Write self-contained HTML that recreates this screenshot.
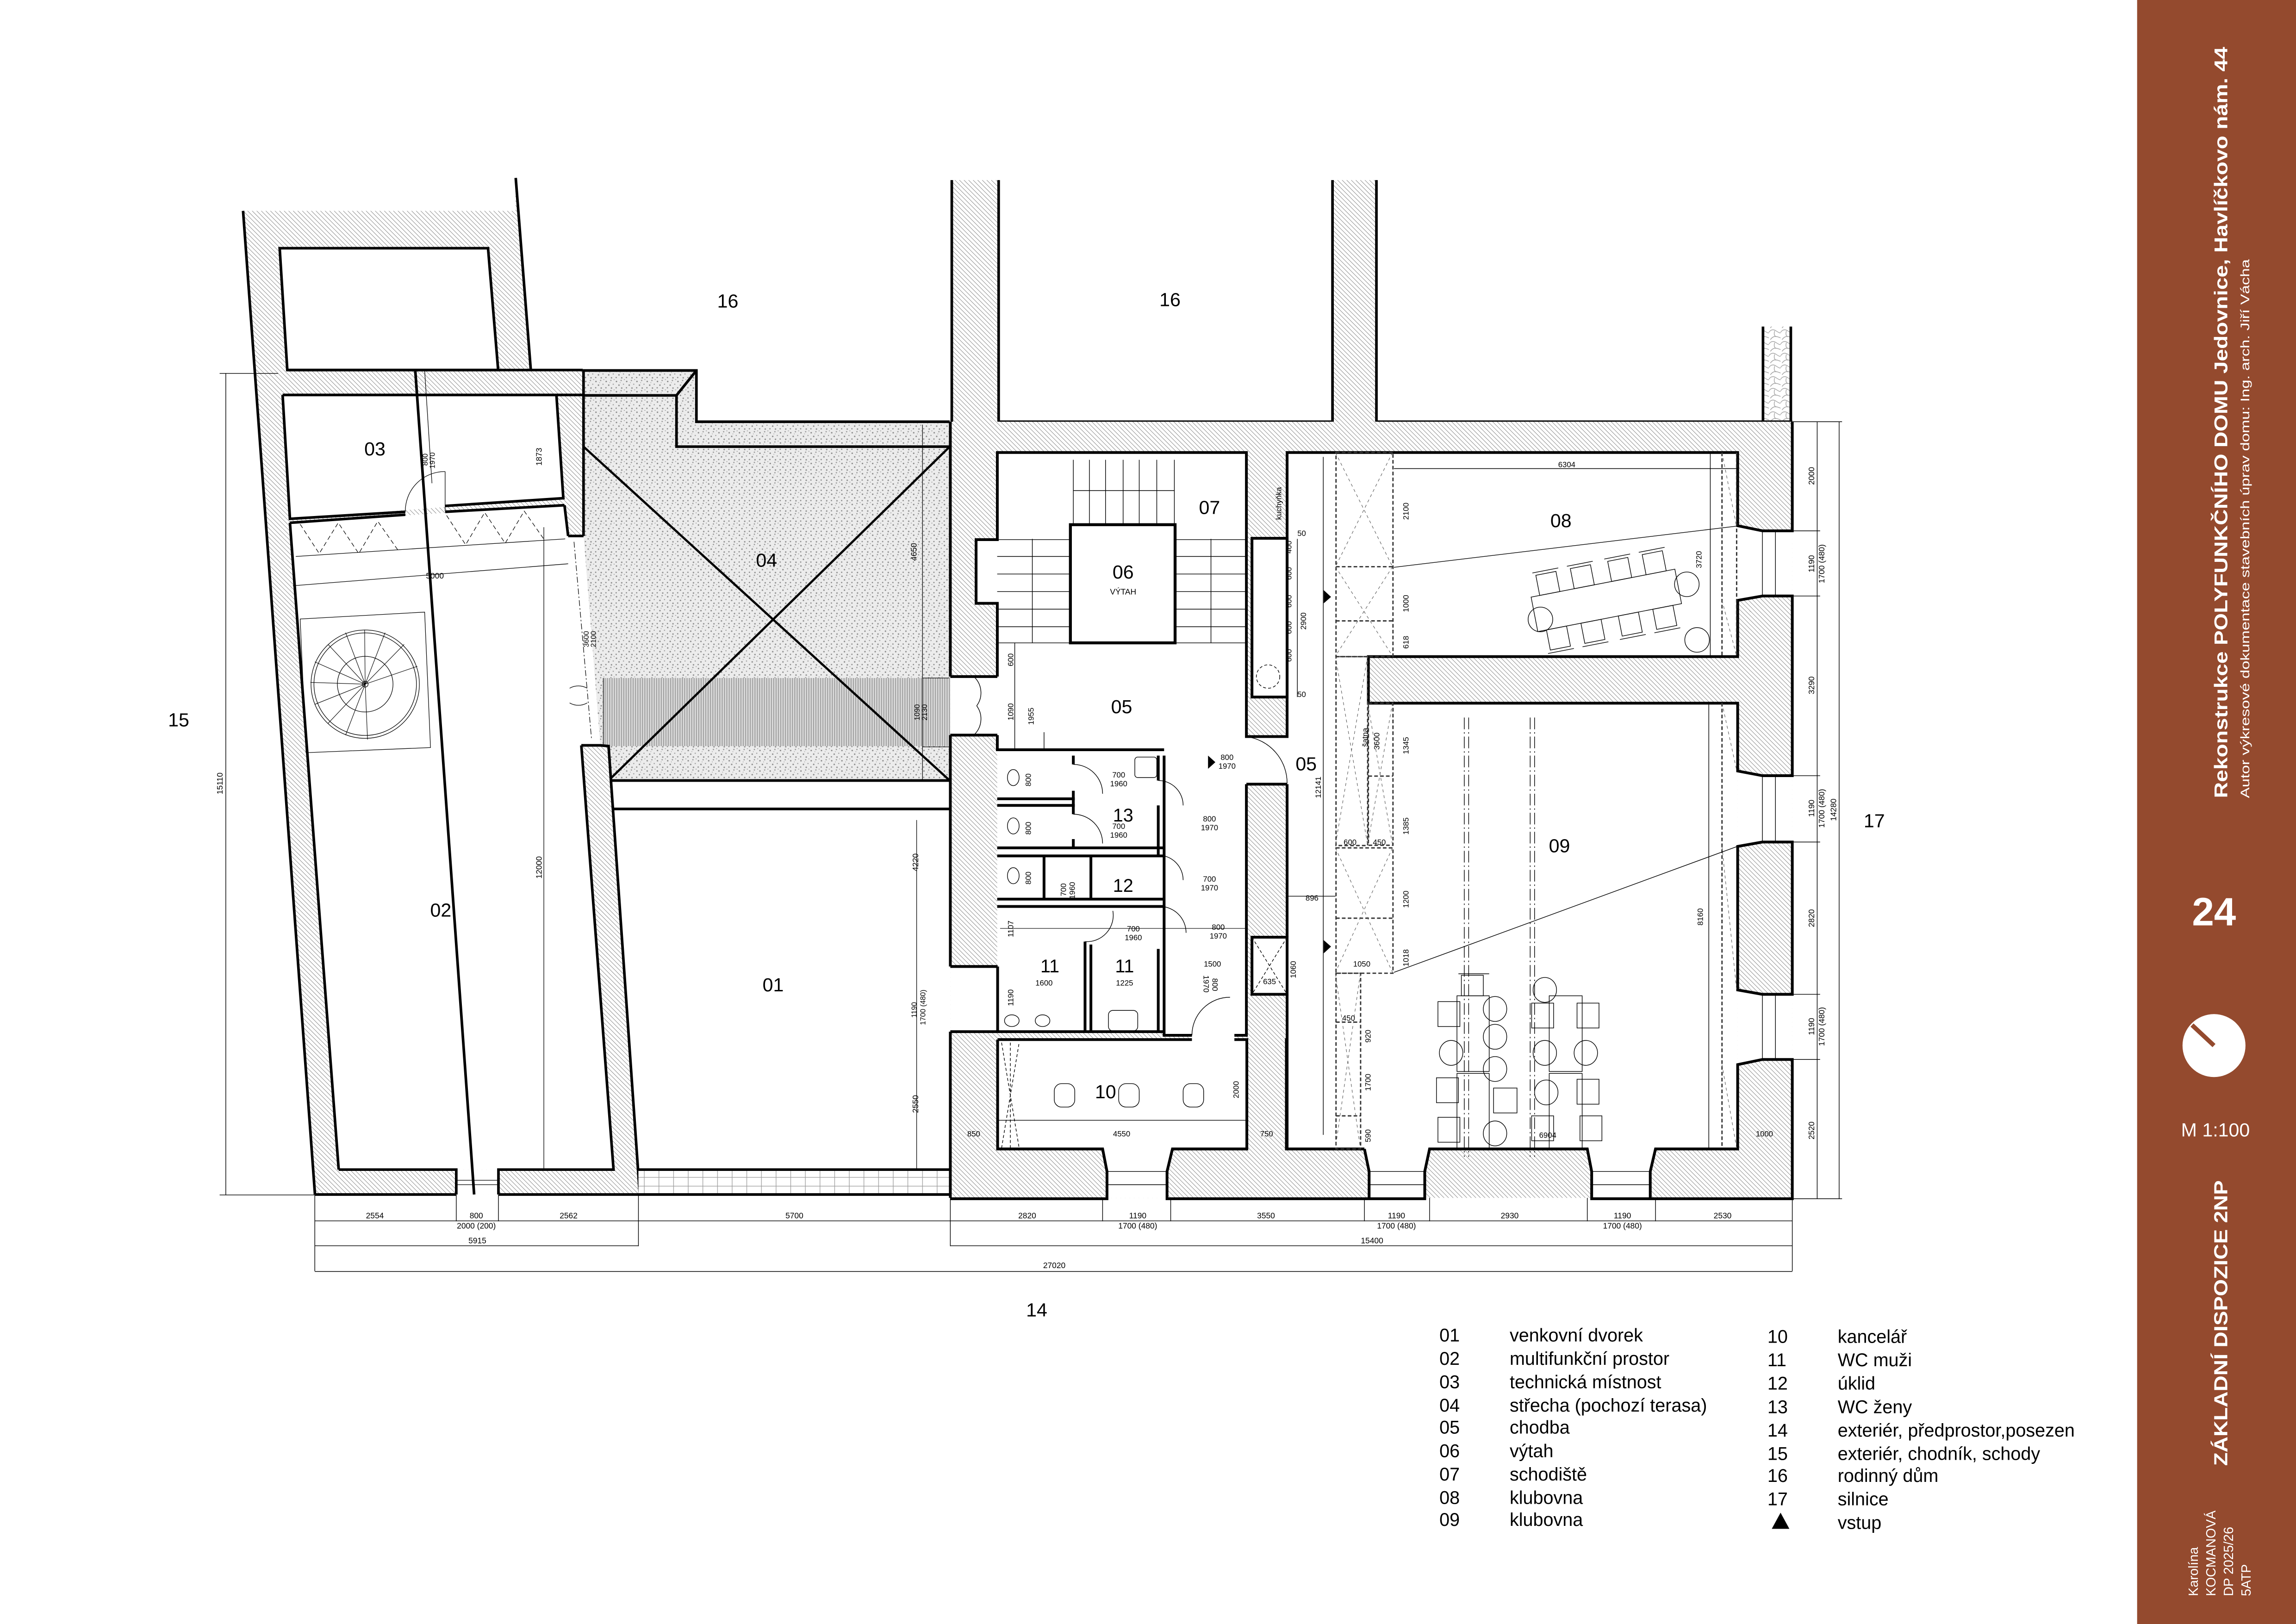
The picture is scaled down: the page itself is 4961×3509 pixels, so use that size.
<!DOCTYPE html>
<html><head><meta charset="utf-8"><style>
html,body{margin:0;padding:0;background:#fff}
svg{display:block}
text{font-family:"Liberation Sans Narrow","Liberation Sans",sans-serif;fill:#000}
</style></head><body>
<svg width="4961" height="3509" viewBox="0 0 1568 1109" preserveAspectRatio="none" xmlns="http://www.w3.org/2000/svg">
<defs>
<pattern id="h" width="2.2" height="2.2" patternUnits="userSpaceOnUse" patternTransform="rotate(-45)">
<rect width="2.2" height="2.2" fill="#fff"/><line x1="0" y1="0" x2="0" y2="2.2" stroke="#7a7a7a" stroke-width="0.55"/></pattern>
<pattern id="st" width="7" height="7" patternUnits="userSpaceOnUse">
<rect width="7" height="7" fill="#ececec"/>
<circle cx="1" cy="1.5" r="0.5" fill="#888"/><circle cx="4.2" cy="0.8" r="0.45" fill="#999"/><circle cx="2.7" cy="4" r="0.5" fill="#8a8a8a"/><circle cx="5.8" cy="3.4" r="0.4" fill="#999"/><circle cx="0.8" cy="5.8" r="0.45" fill="#888"/><circle cx="4.6" cy="6" r="0.5" fill="#8d8d8d"/><circle cx="6.4" cy="0.2" r="0.35" fill="#999"/><circle cx="3.5" cy="2.3" r="0.3" fill="#aaa"/></pattern>
<pattern id="wk" width="1.6" height="7" patternUnits="userSpaceOnUse">
<rect width="1.6" height="7" fill="#d8d8d8"/><line x1="0.4" y1="0" x2="0.4" y2="7" stroke="#8a8a8a" stroke-width="0.45"/></pattern>
<pattern id="pv" width="10" height="6" patternUnits="userSpaceOnUse">
<rect width="10" height="6" fill="#fff"/><rect width="10" height="6" fill="none" stroke="#999" stroke-width="0.4"/></pattern>
<pattern id="stone" width="8" height="8" patternUnits="userSpaceOnUse">
<rect width="8" height="8" fill="#fff"/><path d="M0 3 Q2 0 5 2 T8 3 M1 8 Q3 5 6 6 T8 7 M4 2 Q3 5 5 6" fill="none" stroke="#999" stroke-width="0.4"/></pattern>
</defs>

<!-- ===== sidebar ===== -->
<rect x="1459.5" y="0" width="108.5" height="1109" fill="#944a2e"/>
<text transform="translate(1521,545) rotate(-90)" font-size="12.5" font-weight="bold" style="fill:#fff" textLength="513" lengthAdjust="spacingAndGlyphs">Rekonstrukce POLYFUNKČNÍHO DOMU Jedovnice, Havlíčkovo nám. 44</text>
<text transform="translate(1536,545) rotate(-90)" font-size="8.5" style="fill:#fff" textLength="368" lengthAdjust="spacingAndGlyphs">Autor výkresové dokumentace stavebních úprav domu: Ing. arch. Jiří Vácha</text>
<text x="1512" y="632" font-size="27" font-weight="bold" text-anchor="middle" style="fill:#fff;font-family:'Liberation Sans',sans-serif">24</text>
<circle cx="1512" cy="714" r="21.5" fill="#fff"/>
<line x1="1512" y1="714" x2="1497" y2="700" stroke="#944a2e" stroke-width="3"/>
<text x="1513" y="776" font-size="13" text-anchor="middle" style="fill:#fff;font-family:'Liberation Sans',sans-serif">M 1:100</text>
<text transform="translate(1521,1001) rotate(-90)" font-size="13" font-weight="bold" style="fill:#fff" textLength="195" lengthAdjust="spacingAndGlyphs">ZÁKLADNÍ DISPOZICE 2NP</text>
<text transform="translate(1501,1090) rotate(-90)" font-size="9" style="fill:#fff">Karolína</text>
<text transform="translate(1513,1090) rotate(-90)" font-size="9" style="fill:#fff">KOCMANOVÁ</text>
<text transform="translate(1525,1090) rotate(-90)" font-size="9" style="fill:#fff">DP 2025/26</text>
<text transform="translate(1537,1090) rotate(-90)" font-size="9" style="fill:#fff">5ATP</text>

<!-- ===== legend ===== -->
<g font-size="12.5">
<text x="983" y="916">01</text><text x="1031" y="916">venkovní dvorek</text>
<text x="983" y="932">02</text><text x="1031" y="932">multifunkční prostor</text>
<text x="983" y="948">03</text><text x="1031" y="948">technická místnost</text>
<text x="983" y="964">04</text><text x="1031" y="964">střecha (pochozí terasa)</text>
<text x="983" y="979">05</text><text x="1031" y="979">chodba</text>
<text x="983" y="995">06</text><text x="1031" y="995">výtah</text>
<text x="983" y="1011">07</text><text x="1031" y="1011">schodiště</text>
<text x="983" y="1027">08</text><text x="1031" y="1027">klubovna</text>
<text x="983" y="1042">09</text><text x="1031" y="1042">klubovna</text>
<text x="1207" y="917">10</text><text x="1255" y="917">kancelář</text>
<text x="1207" y="933">11</text><text x="1255" y="933">WC muži</text>
<text x="1207" y="949">12</text><text x="1255" y="949">úklid</text>
<text x="1207" y="965">13</text><text x="1255" y="965">WC ženy</text>
<text x="1207" y="981">14</text><text x="1255" y="981">exteriér, předprostor,posezen</text>
<text x="1207" y="997">15</text><text x="1255" y="997">exteriér, chodník, schody</text>
<text x="1207" y="1012">16</text><text x="1255" y="1012">rodinný dům</text>
<text x="1207" y="1028">17</text><text x="1255" y="1028">silnice</text>
<polygon points="1210,1044 1216,1033 1222,1044" fill="#000"/><text x="1255" y="1044">vstup</text>
</g>

<!-- ===== roof 04 ===== -->
<polygon points="398.5,270 462,270 462,305 648.6,305 648.6,533 415.6,533 410,510 398.5,366" fill="url(#st)"/>
<rect x="412" y="463" width="237" height="46.5" fill="url(#wk)"/>
<polygon points="398,253 475.6,253 475.6,288 648.6,288 648.6,305 462,305 462,270 398,270" fill="url(#st)"/>
<g stroke="#000" stroke-width="1.8" fill="none">
<polyline points="398,253 475.6,253 475.6,288 648.6,288"/>
<polyline points="398.5,270 462,270 462,305 648.6,305"/>
<line x1="462" y1="270" x2="475.6" y2="253"/>
<line x1="415.6" y1="533" x2="648.6" y2="533"/>
<line x1="415.8" y1="552.4" x2="648.6" y2="552.4"/>
</g>
<g stroke="#000" stroke-width="1.5"><line x1="398.5" y1="305" x2="648.6" y2="533"/><line x1="648.6" y1="305" x2="415.6" y2="533"/></g>
<g stroke="#000" stroke-width="0.4" fill="none"><line x1="630" y1="290" x2="630" y2="533"/><line x1="412" y1="463" x2="412" y2="510"/><line x1="630" y1="463" x2="648" y2="463"/><line x1="630" y1="510" x2="648" y2="510"/></g>
<text x="523.5" y="387" font-size="13" text-anchor="middle">04</text>
<text transform="translate(626,383) rotate(-90)" font-size="5.5">4650</text>
<text transform="translate(628,492) rotate(-90)" font-size="5">1090</text><text transform="translate(633,492) rotate(-90)" font-size="5">2130</text>

<!-- ===== left building ===== -->
<polygon points="166,144 352,144 352,122 362.5,253 398,253 398.5,366 410,510 415.6,509.5 436.9,815.7 215.1,815.7" fill="url(#h)"/>
<polygon points="191,169.5 333.3,169.5 340.2,252.7 196.2,252.7" fill="#fff"/>
<polygon points="193,269.7 380,269.7 384.7,340.2 198,354.3" fill="#fff"/>
<polygon points="198,357 385.5,345 388,366 398.5,366 410,510 397,502.6 419,798.7 231.3,798.7" fill="#fff"/>
<polygon points="388,366 398.5,366 410,510 397,510" fill="#fff"/>
<rect x="311.6" y="798.7" width="28.8" height="17" fill="#fff"/>
<g stroke="#000" stroke-width="1.8" fill="none" stroke-linejoin="miter">
<line x1="166" y1="144" x2="215.1" y2="815.7"/>
<line x1="352.2" y1="121.5" x2="362.5" y2="252.7"/>
<polygon points="191,169.5 333.3,169.5 340.2,252.7 196.2,252.7"/>
<line x1="196.2" y1="252.7" x2="398" y2="252.7"/>
<polyline points="193,269.7 380,269.7 384.7,340.2 304,345.5"/>
<polyline points="276.8,349.5 198,354.3 193,269.7"/>
<polyline points="198,357 276.8,351.5"/><polyline points="304,349.5 385.5,345"/>
<line x1="380" y1="269.7" x2="398.5" y2="269.7"/>
<line x1="398.5" y1="253" x2="398.5" y2="366"/>
<line x1="385.5" y1="345" x2="388" y2="366"/>
<line x1="388" y1="366" x2="398.5" y2="366"/>
<line x1="198" y1="357" x2="231.3" y2="798.7"/>
<polyline points="397,509 419,798.7 340.4,798.7 340.4,815.7"/>
<polyline points="231.3,798.7 311.6,798.7 311.6,815.7"/>
<polyline points="397,509 410,509 415.6,509.5 436.9,815.7"/>
<line x1="215.1" y1="815.7" x2="311.6" y2="815.7"/>
<line x1="340.4" y1="815.7" x2="436.9" y2="815.7"/>
<line x1="283.6" y1="253" x2="323.8" y2="815.7"/>
</g>
<g stroke="#000" stroke-width="0.4" fill="none">
<line x1="290" y1="253" x2="295" y2="330"/>
<polyline points="202,380 386,368"/><line x1="200" y1="400" x2="388" y2="385"/>
<path d="M205 358 L218 378 L231 357 L245 378 L258 356 L272 376 M305 352 L318 372 L331 350 L345 371 L358 349 L372 369" stroke-dasharray="3,2"/>
<path d="M276.8 349.5 A27 27 0 0 1 304 322" />
<line x1="304" y1="322" x2="304" y2="349"/>
<line x1="311.6" y1="806" x2="340.4" y2="806"/><line x1="311.6" y1="809" x2="340.4" y2="809"/>
<polygon points="205,422.7 290,418 294,510.5 209,514"/>
<circle cx="249.4" cy="467.2" r="37"/><circle cx="249.4" cy="467.2" r="35"/><circle cx="249.4" cy="467.2" r="19"/>
<circle cx="249.4" cy="467.2" r="2" fill="#fff"/>
<g stroke-width="0.35">
<line x1="249.4" y1="467.2" x2="249" y2="430"/><line x1="249.4" y1="467.2" x2="236" y2="432"/><line x1="249.4" y1="467.2" x2="224" y2="440"/><line x1="249.4" y1="467.2" x2="215" y2="452"/><line x1="249.4" y1="467.2" x2="212" y2="466"/><line x1="249.4" y1="467.2" x2="215" y2="481"/><line x1="249.4" y1="467.2" x2="224" y2="494"/><line x1="249.4" y1="467.2" x2="236" y2="502"/><line x1="249.4" y1="467.2" x2="263" y2="432"/><line x1="249.4" y1="467.2" x2="276" y2="440"/><line x1="249.4" y1="467.2" x2="285" y2="455"/><line x1="249.4" y1="467.2" x2="251" y2="505"/>
</g>
<line x1="392" y1="370" x2="404" y2="505" stroke-dasharray="4,1.5,1,1.5"/>
<path d="M389 470 A12 12 0 0 1 401 470 M389 480 A12 12 0 0 0 401 480"/>
<line x1="371.4" y1="360" x2="371.4" y2="799"/>
</g>
<text x="256" y="311" font-size="13" text-anchor="middle">03</text>
<text x="301" y="626" font-size="13" text-anchor="middle">02</text>
<text x="297" y="395" font-size="5.5" text-anchor="middle">5000</text>
<text transform="translate(370,318) rotate(-90)" font-size="5.5">1873</text>
<text transform="translate(370,600) rotate(-90)" font-size="5.5">12000</text>
<text transform="translate(292,318) rotate(-90)" font-size="5">800</text><text transform="translate(297,320) rotate(-90)" font-size="5">1970</text>
<text transform="translate(402,442) rotate(-90)" font-size="5">3600</text><text transform="translate(407,442) rotate(-90)" font-size="5">2100</text>

<!-- ===== courtyard 01 ===== -->
<rect x="436" y="798.7" width="213" height="17" fill="url(#pv)"/>
<g stroke="#000" stroke-width="1.8"><line x1="436" y1="798.7" x2="649" y2="798.7"/><line x1="436" y1="815.7" x2="649" y2="815.7"/></g>
<line x1="626" y1="560" x2="626" y2="798" stroke="#000" stroke-width="0.4"/>
<text x="528" y="677" font-size="13" text-anchor="middle">01</text>
<text transform="translate(627,595) rotate(-90)" font-size="5.5">4220</text>
<text transform="translate(627,760) rotate(-90)" font-size="5.5">2550</text>
<text transform="translate(626,695) rotate(-90)" font-size="5">1190</text><text transform="translate(632,700) rotate(-90)" font-size="5">1700 (480)</text>

<!-- ===== center building ===== -->
<rect x="650" y="123" width="32" height="167" fill="url(#h)"/>
<rect x="910" y="123" width="30" height="167" fill="url(#h)"/>
<rect x="1204" y="223" width="19" height="65" fill="url(#stone)"/>
<g stroke="#000" stroke-width="1.8" fill="none">
<line x1="650" y1="123" x2="650" y2="290"/><line x1="682" y1="123" x2="682" y2="288"/>
<line x1="910" y1="123" x2="910" y2="288"/><line x1="940" y1="123" x2="940" y2="288"/>
<line x1="682" y1="288" x2="910" y2="288"/><line x1="940" y1="288" x2="1224" y2="288"/>
<line x1="1204" y1="223" x2="1204" y2="288"/><line x1="1223" y1="223" x2="1223" y2="288"/>
</g>
<rect x="649" y="288" width="575" height="530" fill="url(#h)"/>
<!-- rooms white -->
<polygon points="681,309 851,309 851,707 795,707 795,512 681,512" fill="#fff"/>
<rect x="681" y="512" width="114" height="193" fill="#fff"/>
<rect x="666.6" y="368.5" width="15" height="43.5" fill="#fff"/>
<rect x="649" y="462" width="33" height="40" fill="#fff"/>
<rect x="649" y="660" width="33" height="44.5" fill="#fff"/>
<rect x="851" y="503" width="29" height="32.5" fill="#fff"/>
<rect x="855" y="367.6" width="24" height="108.4" fill="#fff"/>
<rect x="855" y="640" width="24" height="39" fill="#fff"/>
<polygon points="879,309 1186.7,309 1186.7,448.4 934.5,448.4 934.5,480.2 1186.7,480.2 1186.7,784.6 879,784.6" fill="#fff"/>
<rect x="681.3" y="709.9" width="170.2" height="74.7" fill="#fff"/>
<rect x="814" y="705" width="29" height="6" fill="#fff"/>
<!-- windows bottom -->
<polygon points="753,784.6 800.7,784.6 797,800 797,818 756,818 756,800" fill="#fff"/>
<polygon points="931.8,784.6 976.3,784.6 973,800 973,818 935,818 935,800" fill="#fff"/>
<polygon points="1084,784.6 1130.6,784.6 1127,800 1127,818 1087,818 1087,800" fill="#fff"/>
<!-- windows right -->
<polygon points="1186.7,359 1203.6,362.5 1224,362.5 1224,407 1203.6,407 1186.7,410" fill="#fff"/>
<polygon points="1186.7,526.5 1203.6,529.7 1224,529.7 1224,575 1203.6,575 1186.7,578" fill="#fff"/>
<polygon points="1186.7,676 1203.6,679 1224,679 1224,723.5 1203.6,723.5 1186.7,727" fill="#fff"/>
<g stroke="#000" stroke-width="1.9" fill="none" stroke-linejoin="miter">
<line x1="649" y1="288" x2="649" y2="462"/><line x1="649" y1="502" x2="649" y2="660"/><line x1="649" y1="704.5" x2="649" y2="818"/>
<polyline points="681.1,462 681.1,412 666.6,412 666.6,368.5 681.1,368.5 681.1,309 851.2,309 851.2,503 879,503 879,309 1186.7,309 1186.7,359 1203.6,362.5"/>
<polyline points="681.1,502 681.1,512 795,512"/>
<polyline points="681.3,660 681.3,704.2"/>
<line x1="649" y1="462" x2="681.1" y2="462"/><line x1="649" y1="502" x2="681.1" y2="502"/>
<line x1="649" y1="660" x2="681.3" y2="660"/><line x1="649" y1="704.5" x2="681.3" y2="704.5"/>
<polyline points="851.2,535.5 851.2,707 843,707"/>
<polyline points="814,707 795,707 795,516"/>
<polyline points="879,535.5 851.2,535.5"/>
<line x1="879" y1="535.5" x2="879" y2="640"/><line x1="879" y1="679" x2="879" y2="784.6"/>
<rect x="855" y="367.6" width="24" height="108.4"/>
<rect x="855" y="640" width="24" height="39"/>
<polyline points="681.3,704.5 795,704.5"/>
<polyline points="681.3,709.9 814,709.9"/><polyline points="843,709.9 851.5,709.9 851.5,784.6 800.7,784.6 797,800 797,818.6 973,818.6 973,800 976.3,784.6 1084,784.6 1087,800 1087,818.6 1224,818.6 1224,723.5 1203.6,723.5 1186.7,727 1186.7,784.6 1130.6,784.6 1127,800 1127,818.6"/>
<polyline points="681.3,709.9 681.3,784.6 753,784.6 756,800 756,818.6 649,818.6"/>
<polyline points="931.8,784.6 878.5,784.6 878.5,709"/>
<polyline points="931.8,784.6 935,800 935,818.6"/>
<polyline points="1224,288 1224,362.5 1203.6,362.5"/>
<polyline points="1203.6,407 1224,407 1224,529.7 1203.6,529.7 1186.7,526.5 1186.7,480.2 934.5,480.2 934.5,448.4 1186.7,448.4 1186.7,410 1203.6,407"/>
<polyline points="1203.6,575 1224,575 1224,679 1203.6,679 1186.7,676 1186.7,578 1203.6,575"/>
<rect x="731" y="358.3" width="71.5" height="80.7" stroke-width="2"/>
<!-- WC partitions -->
<line x1="681" y1="545.5" x2="734" y2="545.5"/><line x1="681" y1="550" x2="734" y2="550"/>
<line x1="681" y1="579" x2="795" y2="579"/><line x1="681" y1="584.5" x2="795" y2="584.5"/>
<line x1="681" y1="614" x2="795" y2="614"/><line x1="681" y1="619" x2="795" y2="619"/>
<line x1="713" y1="584.5" x2="713" y2="614"/>
<line x1="741" y1="643" x2="741" y2="705"/><line x1="745" y1="645" x2="745" y2="705"/>
<line x1="745" y1="584.5" x2="745" y2="614"/>
<line x1="791" y1="516" x2="791" y2="533"/><line x1="791" y1="550" x2="791" y2="584"/><line x1="791" y1="648" x2="791" y2="705"/>
<line x1="733" y1="516" x2="733" y2="522"/><line x1="733" y1="540" x2="733" y2="556"/><line x1="733" y1="573" x2="733" y2="579"/>
</g>
<!-- wardrobe band -->
<g stroke="#333" stroke-width="0.9" stroke-dasharray="2.5,1.5" fill="none">
<rect x="912.4" y="309" width="38.9" height="139.4"/>
<rect x="912.4" y="448.4" width="21.6" height="129"/>
<rect x="934.5" y="480.2" width="16.8" height="97"/>
<rect x="912.4" y="579" width="38.9" height="85.6"/>
<rect x="912.4" y="664.6" width="16.8" height="120"/>
<line x1="912.4" y1="387" x2="951.3" y2="387"/><line x1="912.4" y1="424" x2="951.3" y2="424"/>
<line x1="934.5" y1="530" x2="951.3" y2="530"/><line x1="912.4" y1="627" x2="951.3" y2="627"/><line x1="912.4" y1="698" x2="929.2" y2="698"/><line x1="912.4" y1="762" x2="929.2" y2="762"/>
<line x1="1186" y1="309" x2="1186" y2="448" /><line x1="1176" y1="309" x2="1176" y2="448"/>
<line x1="1176" y1="480" x2="1176" y2="784"/>
</g>
<g stroke="#555" stroke-width="0.35" stroke-dasharray="2,2" fill="none">
<path d="M912 309 L951 387 M951 309 L912 387 M912 387 L951 448 M951 387 L912 448 M912 448 L934 577 M934 448 L912 577 M934 480 L951 577 M951 480 L934 577 M912 579 L951 664 M951 579 L912 664 M912 665 L929 784 M929 665 L912 784"/>
<path d="M1176 309 L1186 360 M1176 410 L1186 448 M1176 480 L1186 526 M1176 578 L1186 676 M1176 727 L1186 784"/>
</g>
<!-- stair -->
<g stroke="#000" stroke-width="0.45" fill="none">
<line x1="733" y1="314" x2="733" y2="358"/><line x1="744" y1="314" x2="744" y2="358"/><line x1="755" y1="314" x2="755" y2="358"/><line x1="767" y1="314" x2="767" y2="358"/><line x1="778" y1="314" x2="778" y2="358"/><line x1="790" y1="314" x2="790" y2="358"/><line x1="802" y1="314" x2="802" y2="358"/>
<line x1="681" y1="368.5" x2="731" y2="368.5"/><line x1="681" y1="380" x2="731" y2="380"/><line x1="681" y1="392" x2="731" y2="392"/><line x1="681" y1="404" x2="731" y2="404"/><line x1="681" y1="416" x2="731" y2="416"/><line x1="681" y1="428" x2="731" y2="428"/><line x1="681" y1="439" x2="731" y2="439"/>
<line x1="802" y1="368.5" x2="851" y2="368.5"/><line x1="802" y1="380" x2="851" y2="380"/><line x1="802" y1="392" x2="851" y2="392"/><line x1="802" y1="404" x2="851" y2="404"/><line x1="802" y1="416" x2="851" y2="416"/><line x1="802" y1="428" x2="851" y2="428"/><line x1="802" y1="439" x2="851" y2="439"/>
<line x1="733" y1="335" x2="802" y2="335"/><line x1="705" y1="368" x2="705" y2="439"/><line x1="827" y1="368" x2="827" y2="439"/>
<line x1="693" y1="439" x2="693" y2="512"/>
<line x1="713" y1="512" x2="713" y2="500"/>
</g>
<text x="826" y="351" font-size="13" text-anchor="middle">07</text>
<text x="767" y="395" font-size="13" text-anchor="middle">06</text>
<text x="767" y="406" font-size="5.5" text-anchor="middle" style="font-family:'Liberation Sans',sans-serif">VÝTAH</text>
<text x="766" y="487" font-size="13" text-anchor="middle">05</text>
<text x="892" y="526" font-size="13" text-anchor="middle">05</text>
<text x="767" y="561" font-size="12.5" text-anchor="middle">13</text>
<text x="767" y="609" font-size="12.5" text-anchor="middle">12</text>
<text x="717" y="664" font-size="12.5" text-anchor="middle">11</text>
<text x="768" y="664" font-size="12.5" text-anchor="middle">11</text>
<text x="755" y="750" font-size="13" text-anchor="middle">10</text>
<text x="1066" y="360" font-size="13" text-anchor="middle">08</text>
<text x="1065" y="582" font-size="13" text-anchor="middle">09</text>
<!-- doors & fixtures -->
<g stroke="#000" stroke-width="0.45" fill="none">
<path d="M851 503 A32 32 0 0 1 879 535"/>
<path d="M791 533 A17 17 0 0 1 808 550"/>
<path d="M733 522 A20 20 0 0 1 753 542"/><path d="M733 556 A20 20 0 0 1 753 576"/>
<path d="M791 584 A17 17 0 0 1 808 601"/><path d="M791 619 A18 18 0 0 1 810 637"/>
<path d="M741 643 A18 18 0 0 0 760 622"/>
<path d="M814 707 A26 26 0 0 1 840 681"/>
<path d="M665 462 A15 15 0 0 1 667 482 M665 502 A15 15 0 0 0 667 482"/>
<ellipse cx="692" cy="531" rx="4" ry="5.5"/><ellipse cx="692" cy="564" rx="4" ry="5.5"/><ellipse cx="692" cy="598" rx="4" ry="5.5"/>
<ellipse cx="691" cy="697" rx="5" ry="4"/><ellipse cx="712" cy="697" rx="5" ry="4"/>
<rect x="757" y="690" width="20" height="14" rx="3"/>
<rect x="775" y="517" width="15" height="14" rx="2"/>
<line x1="683" y1="634" x2="851" y2="634" stroke-width="0.35"/>
<rect x="855" y="368" width="24" height="108" stroke-dasharray="2,1.5"/>
<circle cx="866" cy="462" r="8" stroke-dasharray="2,1.5"/>
<line x1="886" y1="368" x2="886" y2="476"/>
<line x1="903.7" y1="312" x2="903.7" y2="775"/>
<line x1="879" y1="612" x2="912" y2="612"/>
<path d="M855 640 L879 679 M879 640 L855 679" stroke-dasharray="2,1.5"/>
<path d="M684 712 L696 784 M684 784 L696 712 M690 712 L690 784" stroke-dasharray="2,1.5"/>
<line x1="681" y1="765" x2="851" y2="765"/>
<rect x="720" y="740" width="14" height="16" rx="5"/><rect x="764" y="740" width="14" height="16" rx="5"/><rect x="808" y="740" width="14" height="16" rx="5"/>
<line x1="1203.6" y1="362.5" x2="1203.6" y2="407"/><line x1="1212.5" y1="362.5" x2="1212.5" y2="407"/>
<line x1="1203.6" y1="529.7" x2="1203.6" y2="575"/><line x1="1212.5" y1="529.7" x2="1212.5" y2="575"/>
<line x1="1203.6" y1="679" x2="1203.6" y2="723.5"/><line x1="1212.5" y1="679" x2="1212.5" y2="723.5"/>
<line x1="756" y1="800" x2="797" y2="800"/><line x1="756" y1="809" x2="797" y2="809"/>
<line x1="935" y1="800" x2="973" y2="800"/><line x1="935" y1="809" x2="973" y2="809"/>
<line x1="1087" y1="800" x2="1127" y2="800"/><line x1="1087" y1="809" x2="1127" y2="809"/>
<!-- section lines -->
<line x1="952" y1="387.4" x2="1186.7" y2="359.2"/>
<line x1="952" y1="664" x2="1186.7" y2="577.9"/>
<line x1="1000" y1="490" x2="1000" y2="790" stroke-dasharray="8,2,1,2"/><line x1="1003" y1="490" x2="1003" y2="790" stroke-dasharray="8,2,1,2"/>
<line x1="1045" y1="490" x2="1045" y2="790" stroke-dasharray="8,2,1,2"/><line x1="1048" y1="490" x2="1048" y2="790" stroke-dasharray="8,2,1,2"/>
<line x1="1167" y1="480" x2="1167" y2="784"/><line x1="1168" y1="309" x2="1168" y2="448"/>
<line x1="952" y1="320" x2="1186" y2="320"/>
<!-- 08 furniture -->
<g transform="translate(1097,410) rotate(-11)">
<rect x="-50" y="-12" width="100" height="24"/>
<rect x="-44" y="-26" width="14" height="14"/><rect x="-20" y="-26" width="14" height="14"/><rect x="6" y="-26" width="14" height="14"/><rect x="30" y="-26" width="14" height="14"/>
<rect x="-44" y="12" width="14" height="14"/><rect x="-20" y="12" width="14" height="14"/><rect x="6" y="12" width="14" height="14"/><rect x="30" y="12" width="14" height="14"/>
<line x1="-46" y1="-28" x2="-28" y2="-28"/><line x1="-22" y1="-28" x2="-4" y2="-28"/><line x1="4" y1="-28" x2="22" y2="-28"/><line x1="28" y1="-28" x2="46" y2="-28"/>
<line x1="-46" y1="28" x2="-28" y2="28"/><line x1="-22" y1="28" x2="-4" y2="28"/><line x1="4" y1="28" x2="22" y2="28"/><line x1="28" y1="28" x2="46" y2="28"/>
</g>
<circle cx="1152" cy="399" r="8.4"/><circle cx="1159" cy="437" r="8.4"/><circle cx="1052" cy="423" r="8.4"/>
<!-- 09 furniture -->
<rect x="995" y="680" width="22" height="51.7"/><rect x="995" y="733" width="22" height="51"/>
<rect x="1058" y="680" width="22.5" height="51.7"/><rect x="1058" y="733" width="22.5" height="51"/>
<rect x="998" y="666" width="15" height="14"/><line x1="996" y1="665" x2="1017" y2="665"/>
<ellipse cx="1021" cy="689" rx="8" ry="8.5"/><ellipse cx="1021" cy="708" rx="8" ry="8.5"/><ellipse cx="1021" cy="730" rx="8" ry="8.5"/><ellipse cx="1021" cy="774" rx="8" ry="8.5"/>
<ellipse cx="991" cy="719" rx="8" ry="8.5"/><ellipse cx="1055" cy="676" rx="8" ry="8.5"/><ellipse cx="1055" cy="719" rx="8" ry="8.5"/><ellipse cx="1083" cy="719" rx="8" ry="8.5"/><ellipse cx="1056" cy="746" rx="8" ry="8.5"/>
<rect x="982" y="684" width="15" height="17"/><rect x="981" y="736" width="15" height="17"/><rect x="982" y="763" width="15" height="17"/>
<rect x="1020" y="743" width="16" height="17"/>
<rect x="1046" y="685" width="15" height="17"/><rect x="1077" y="685" width="15" height="17"/><rect x="1077" y="737" width="15" height="17"/><rect x="1046" y="762" width="15" height="17"/><rect x="1079" y="762" width="15" height="17"/>
</g>
<polygon points="904,403 904,412 909,407.6" fill="#000"/>
<polygon points="904,642 904,651 909,646.4" fill="#000"/>
<polygon points="825,516 825,525 830,520.5" fill="#000"/>

<!-- small dims inside center -->
<g font-size="5.3">
<text x="1070" y="319" text-anchor="middle">6304</text>
<text transform="translate(962,355) rotate(-90)">2100</text>
<text transform="translate(962,418) rotate(-90)">1000</text>
<text transform="translate(962,443) rotate(-90)">618</text>
<text transform="translate(1162,388) rotate(-90)">3720</text>
<text transform="translate(962,515) rotate(-90)">1345</text>
<text transform="translate(962,570) rotate(-90)">1385</text>
<text transform="translate(962,620) rotate(-90)">1200</text>
<text transform="translate(962,660) rotate(-90)">1018</text>
<text transform="translate(1163,632) rotate(-90)">8160</text>
<text transform="translate(902,545) rotate(-90)">12141</text>
<text transform="translate(942,512) rotate(-90)">3600</text>
<text transform="translate(934,510) rotate(-90)">šatna</text>
<text x="896" y="615" text-anchor="middle">896</text>
<text x="922" y="577" text-anchor="middle">600</text><text x="942" y="577" text-anchor="middle">450</text>
<text x="930" y="660" text-anchor="middle">1050</text>
<text transform="translate(936,712) rotate(-90)">920</text>
<text x="921" y="697" text-anchor="middle">450</text>
<text transform="translate(936,745) rotate(-90)">1700</text>
<text transform="translate(936,780) rotate(-90)">590</text>
<text x="1057" y="777" text-anchor="middle">6904</text>
<text x="1205" y="776" text-anchor="middle">1000</text>
<text x="665" y="776" text-anchor="middle">850</text><text x="766" y="776" text-anchor="middle">4550</text><text x="865" y="776" text-anchor="middle">750</text>
<text transform="translate(846,750) rotate(-90)">2000</text>
<text x="867" y="672" text-anchor="middle">635</text><text transform="translate(885,668) rotate(-90)">1060</text>
<text x="828" y="660" text-anchor="middle">1500</text>
<text x="713" y="673" text-anchor="middle">1600</text><text x="768" y="673" text-anchor="middle">1225</text>
<text transform="translate(692,687) rotate(-90)">1190</text><text transform="translate(692,640) rotate(-90)">1107</text>
<text transform="translate(892,430) rotate(-90)">2900</text>
<text transform="translate(875,355) rotate(-90)">kuchyňka</text>
<text transform="translate(882,378) rotate(-90)">400</text><text transform="translate(882,396) rotate(-90)">600</text><text transform="translate(882,415) rotate(-90)">600</text><text transform="translate(882,433) rotate(-90)">600</text><text transform="translate(882,452) rotate(-90)">600</text>
<text x="886" y="366">50</text><text x="886" y="476">50</text>
<text transform="translate(692,455) rotate(-90)">600</text>
<text transform="translate(692,492) rotate(-90)">1090</text>
<text transform="translate(706,495) rotate(-90)">1955</text>
<text x="838" y="519" text-anchor="middle">800</text><text x="838" y="525" text-anchor="middle">1970</text>
<text x="764" y="531" text-anchor="middle">700</text><text x="764" y="537" text-anchor="middle">1960</text>
<text x="764" y="566" text-anchor="middle">700</text><text x="764" y="572" text-anchor="middle">1960</text>
<text x="826" y="561" text-anchor="middle">800</text><text x="826" y="567" text-anchor="middle">1970</text>
<text x="826" y="602" text-anchor="middle">700</text><text x="826" y="608" text-anchor="middle">1970</text>
<text x="774" y="636" text-anchor="middle">700</text><text x="774" y="642" text-anchor="middle">1960</text>
<text x="832" y="635" text-anchor="middle">800</text><text x="832" y="641" text-anchor="middle">1970</text>
<text transform="translate(728,612) rotate(-90)">700</text><text transform="translate(734,614) rotate(-90)">1960</text>
<text transform="translate(828,668) rotate(90)">800</text><text transform="translate(822,666) rotate(90)">1970</text>
<text transform="translate(704,537) rotate(-90)">800</text><text transform="translate(704,570) rotate(-90)">800</text><text transform="translate(704,604) rotate(-90)">800</text>
</g>

<!-- ===== dimension lines ===== -->
<g stroke="#000" stroke-width="0.45" fill="none">
<line x1="215" y1="833.7" x2="1224" y2="833.7"/>
<line x1="215" y1="850.7" x2="436" y2="850.7"/><line x1="649" y1="850.7" x2="1224" y2="850.7"/>
<line x1="215" y1="868.3" x2="1224" y2="868.3"/>
<line x1="215" y1="816" x2="215" y2="868"/><line x1="311.6" y1="816" x2="311.6" y2="834"/><line x1="340.4" y1="816" x2="340.4" y2="834"/><line x1="436" y1="816" x2="436" y2="851"/><line x1="649" y1="818" x2="649" y2="851"/><line x1="753" y1="818" x2="753" y2="834"/><line x1="799.5" y1="818" x2="799.5" y2="834"/><line x1="931.8" y1="818" x2="931.8" y2="834"/><line x1="976.3" y1="818" x2="976.3" y2="834"/><line x1="1084" y1="818" x2="1084" y2="834"/><line x1="1130.6" y1="818" x2="1130.6" y2="834"/><line x1="1224" y1="818" x2="1224" y2="868"/>
<line x1="154.2" y1="255" x2="154.2" y2="816"/><line x1="150" y1="255" x2="190" y2="255"/><line x1="150" y1="816" x2="215" y2="816"/>
<line x1="1241" y1="288" x2="1241" y2="818.6"/><line x1="1256" y1="288" x2="1256" y2="818.6"/>
<line x1="1224" y1="288" x2="1258" y2="288"/><line x1="1224" y1="818.6" x2="1258" y2="818.6"/>
<line x1="1224" y1="362.5" x2="1243" y2="362.5"/><line x1="1224" y1="407" x2="1243" y2="407"/><line x1="1224" y1="529.7" x2="1243" y2="529.7"/><line x1="1224" y1="575" x2="1243" y2="575"/><line x1="1224" y1="679" x2="1243" y2="679"/><line x1="1224" y1="723.5" x2="1243" y2="723.5"/>
</g>
<g font-size="5.5" text-anchor="middle">
<text x="256" y="832">2554</text><text x="325.3" y="832">800</text><text x="388.3" y="832">2562</text><text x="542.5" y="832">5700</text><text x="701.5" y="832">2820</text><text x="777" y="832">1190</text><text x="864.6" y="832">3550</text><text x="953.7" y="832">1190</text><text x="1031" y="832">2930</text><text x="1108" y="832">1190</text><text x="1176.4" y="832">2530</text>
<text x="325.3" y="839">2000 (200)</text><text x="777" y="839">1700 (480)</text><text x="953.7" y="839">1700 (480)</text><text x="1108" y="839">1700 (480)</text>
<text x="326" y="849">5915</text><text x="937" y="849">15400</text><text x="720" y="866">27020</text>
<text transform="translate(152,535) rotate(-90)">15110</text>
<text transform="translate(1239,325) rotate(-90)">2000</text>
<text transform="translate(1239,385) rotate(-90)">1190</text><text transform="translate(1246,385) rotate(-90)">1700 (480)</text>
<text transform="translate(1239,468) rotate(-90)">3290</text>
<text transform="translate(1239,552) rotate(-90)">1190</text><text transform="translate(1246,552) rotate(-90)">1700 (480)</text>
<text transform="translate(1239,627) rotate(-90)">2820</text>
<text transform="translate(1239,701) rotate(-90)">1190</text><text transform="translate(1246,701) rotate(-90)">1700 (480)</text>
<text transform="translate(1239,772) rotate(-90)">2520</text>
<text transform="translate(1254,553) rotate(-90)">14280</text>
</g>

<!-- outside labels -->
<g font-size="13" text-anchor="middle">
<text x="497" y="210">16</text><text x="799" y="209">16</text>
<text x="122" y="496">15</text><text x="1280" y="565">17</text><text x="708" y="899">14</text>
</g>
</svg>
</body></html>
